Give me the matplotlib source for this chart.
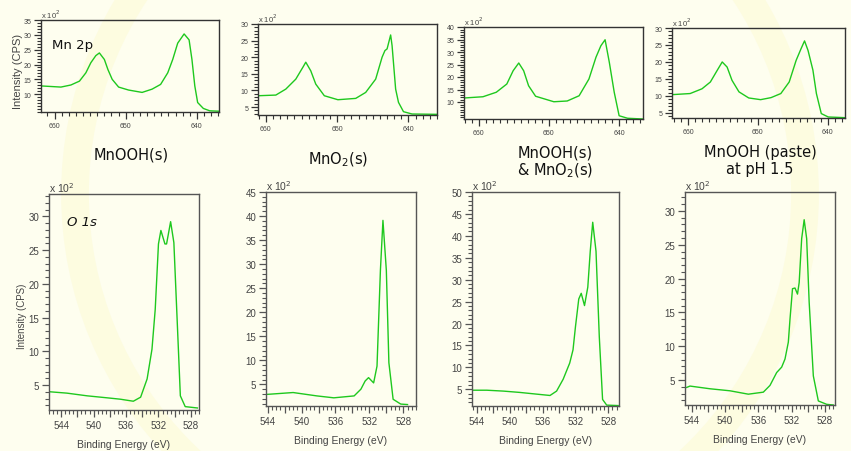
import matplotlib
matplotlib.use("Agg")
import matplotlib.pyplot as plt
from matplotlib.ticker import MultipleLocator, FixedLocator, FuncFormatter
from matplotlib.patches import Circle

# Mn 2p spectra (binding energy in eV, intensity in 100 CPS)
mnooh_E = [662.0, 659.1, 657.7, 656.5, 655.6, 654.9, 654.2, 653.7, 653.0, 652.5, 651.9, 651.0,
           649.6, 647.7, 646.3, 645.1, 644.1, 643.4, 642.7, 641.8, 641.1, 640.7, 640.3, 639.9,
           639.1, 638.2, 636.3]
mnooh_I = [12.8, 12.4, 13.1, 14.4, 17.2, 20.6, 23.0, 23.9, 21.7, 18.3, 15.0, 12.4,
           11.4, 10.6, 11.7, 13.3, 17.2, 21.7, 27.2, 30.3, 28.3, 21.7, 12.8, 7.2,
           5.2, 4.4, 4.2]

mno2_E = [661.1, 658.6, 657.2, 655.8, 654.8, 654.4, 653.7, 653.0, 651.8, 649.9, 647.4, 646.0,
          644.6, 643.7, 643.3, 643.0, 642.5, 642.3, 641.8, 641.4, 640.7, 639.5, 636.0]
mno2_I = [8.4, 8.6, 10.4, 13.4, 17.0, 18.5, 15.9, 11.9, 8.4, 7.2, 7.6, 9.4,
          13.4, 20.0, 22.0, 22.5, 26.7, 23.5, 10.4, 6.4, 3.6, 2.9, 2.8]

mix_E = [662.1, 659.4, 657.5, 656.0, 655.1, 654.3, 653.6, 652.9, 651.9, 649.3, 647.4, 645.7,
         644.3, 643.3, 642.6, 642.0, 641.4, 640.7, 640.0, 638.8, 636.6]
mix_I = [11.6, 12.1, 13.9, 17.2, 22.5, 25.6, 22.5, 16.5, 12.3, 10.1, 10.4, 12.5,
         19.2, 27.9, 32.5, 34.9, 25.9, 13.9, 4.5, 3.5, 3.2]

paste_E = [662.1, 659.7, 658.0, 656.8, 655.8, 655.1, 654.4, 653.7, 652.7, 651.3, 649.6, 648.1,
           646.7, 645.5, 644.5, 643.8, 643.3, 642.8, 642.1, 641.6, 640.9, 639.9, 637.5]
paste_I = [10.4, 10.7, 12.1, 14.1, 17.6, 20.0, 18.5, 14.6, 11.2, 9.4, 8.9, 9.5,
           10.7, 14.1, 20.5, 23.9, 26.2, 23.4, 17.6, 10.7, 4.8, 3.8, 3.6]

# O 1s spectra
o_mnooh_E = [545.4, 543.3, 540.8, 538.3, 536.7, 535.1, 534.2, 533.4, 532.8, 532.4, 532.0, 531.7,
             531.2, 531.0, 530.5, 530.1, 529.7, 529.3, 528.7, 527.2]
o_mnooh_I = [4.0, 3.8, 3.4, 3.1, 2.9, 2.6, 3.2, 5.9, 10.3, 16.2, 25.9, 27.9,
             25.9, 25.9, 29.2, 26.1, 14.8, 3.4, 1.8, 1.6]

o_mno2_E = [544.2, 541.0, 538.2, 536.2, 533.8, 533.0, 532.5, 532.1, 531.5, 531.1, 530.7, 530.4,
            530.0, 529.7, 529.2, 528.3, 527.5]
o_mno2_I = [2.9, 3.3, 2.6, 2.2, 2.6, 4.0, 5.7, 6.4, 5.3, 8.8, 28.7, 39.1,
            28.7, 9.5, 1.9, 0.9, 0.8]

o_mix_E = [544.5, 542.8, 540.8, 538.8, 536.7, 535.1, 534.3, 533.5, 532.7, 532.3, 532.0, 531.6,
           531.3, 530.9, 530.5, 530.2, 529.9, 529.5, 529.1, 528.7, 528.2, 526.8]
o_mix_I = [4.8, 4.8, 4.6, 4.3, 3.9, 3.6, 4.6, 7.3, 11.0, 14.0, 19.3, 25.6,
           26.9, 24.1, 28.3, 36.5, 43.1, 36.5, 17.0, 2.7, 1.4, 1.3]

o_paste_E = [544.6, 544.2, 541.8, 539.4, 537.2, 535.4, 534.6, 533.8, 533.2, 532.8, 532.4, 532.2,
             531.9, 531.6, 531.3, 531.1, 530.8, 530.5, 530.2, 529.9, 529.4, 528.8, 527.8, 527.0]
o_paste_I = [3.9, 4.1, 3.7, 3.4, 2.9, 3.2, 4.2, 6.1, 6.9, 8.1, 10.6, 14.0,
             18.5, 18.6, 17.7, 19.4, 25.9, 28.7, 25.9, 16.5, 5.6, 1.9, 1.4, 1.3]

sample_titles = ["MnOOH(s)", "MnO$_2$(s)", "MnOOH(s)\n& MnO$_2$(s)", "MnOOH (paste)\nat pH 1.5"]
mn_yticks = [[10, 15, 20, 25, 30, 35], [5, 10, 15, 20, 25, 30],
             [10, 15, 20, 25, 30, 35, 40], [5, 10, 15, 20, 25, 30]]
o_yticks = [[5, 10, 15, 20, 25, 30], [5, 10, 15, 20, 25, 30, 35, 40, 45],
            [5, 10, 15, 20, 25, 30, 35, 40, 45, 50], [5, 10, 15, 20, 25, 30]]

W, H = 851, 452
BG = "#fefeef"
GREEN = "#1ec81e"

# layout in pixels: left, top, right, bottom
mn_rects = [(41, 21, 219, 113), (258, 25, 437, 116), (464, 28, 643, 120), (672, 29, 845, 119)]
mn_xlims = [(661.9, 636.9), (661.1, 636.0), (662.1, 636.6), (662.3, 637.5)]
mn_ylims = [(4, 35), (2.6, 30), (3.2, 40), (3.5, 30)]
o_rects = [(49, 195, 199, 411), (266, 193, 416, 407), (472, 193, 619, 407), (685, 193, 835, 406)]
o_xlims = [(545.5, 527), (544.2, 526.5), (544.6, 526.7), (544.8, 526.8)]
o_ylims = [(1.3, 33.3), (0.5, 45), (1.2, 50), (1.3, 32.8)]
title_pos = [(131, 155), (338, 160), (555, 163), (760, 161)]

fig = plt.figure(figsize=(W / 100, H / 100), dpi=100, facecolor=BG)

# faint slide decoration
bg = fig.add_axes([0, 0, 1, 1], zorder=-5)
bg.set_xlim(0, W)
bg.set_ylim(H, 0)
bg.axis("off")
bg.add_patch(Circle((440, 195), 365, fill=False, lw=20, ec="#fdfce0"))


def add_panel(rect, xlim, ylim, yticks, E, I, top):
    l, t, r, b = rect
    ax = fig.add_axes([l / W, 1 - b / H, (r - l) / W, (b - t) / H])
    ax.set_facecolor("none")
    ax.plot(E, I, color=GREEN, lw=1.0)
    ax.set_xlim(*xlim)
    ax.set_ylim(*ylim)
    edge = "#333333" if top else "#555555"
    for s in ax.spines.values():
        s.set_color(edge)
        s.set_linewidth(1.0)
    fs = 5 if top else 7
    ax.yaxis.set_major_locator(FixedLocator(yticks))
    ax.yaxis.set_minor_locator(MultipleLocator(1))
    if top:
        ax.xaxis.set_major_locator(MultipleLocator(10))
        ax.xaxis.set_minor_locator(MultipleLocator(1))
        ax.xaxis.set_major_formatter(FuncFormatter(lambda v, p: "%d" % v))
    else:
        ax.xaxis.set_major_locator(MultipleLocator(2))
        ax.xaxis.set_minor_locator(MultipleLocator(0.5))
        ax.xaxis.set_major_formatter(
            FuncFormatter(lambda v, p: "%d" % v if round(v) % 4 == 0 else ""))
    ax.tick_params(which="major", direction="out", length=5, width=0.9, color=edge,
                   labelsize=fs, labelcolor="#444444", pad=2)
    ax.tick_params(which="minor", direction="out", length=3, width=0.8, color=edge)
    for lab in ax.get_xticklabels() + ax.get_yticklabels():
        lab.set_family("Liberation Sans")
    ax.text(0.0, 1.0, "x 10$^2$", transform=ax.transAxes, ha="left", va="bottom",
            fontsize=fs + 0.5, color="#444444", family="Liberation Sans")
    return ax


for k in range(4):
    add_panel(mn_rects[k], mn_xlims[k], mn_ylims[k], mn_yticks[k],
              [mnooh_E, mno2_E, mix_E, paste_E][k], [mnooh_I, mno2_I, mix_I, paste_I][k], True)
    ax = add_panel(o_rects[k], o_xlims[k], o_ylims[k], o_yticks[k],
                   [o_mnooh_E, o_mno2_E, o_mix_E, o_paste_E][k],
                   [o_mnooh_I, o_mno2_I, o_mix_I, o_paste_I][k], False)
    ax.set_xlabel("Binding Energy (eV)", fontsize=7.5, color="#444444",
                  family="Liberation Sans", labelpad=7)
    x, y = title_pos[k]
    fig.text(x / W, 1 - y / H, sample_titles[k], ha="center", va="center",
             fontsize=10.5, color="#111111", linespacing=1.1)

# y labels and element labels
fig.text(18 / W, 1 - 71 / H, "Intensity (CPS)", rotation=90, ha="center", va="center",
         fontsize=8, color="#444444", family="Liberation Sans")
fig.text(22 / W, 1 - 316 / H, "Intensity (CPS)", rotation=90, ha="center", va="center",
         fontsize=7, color="#444444", family="Liberation Sans")
fig.text(52 / W, 1 - 45 / H, "Mn 2p", ha="left", va="center", fontsize=9.5, color="#111111")
fig.text(67 / W, 1 - 223 / H, "O 1s", ha="left", va="center", fontsize=9.5,
         style="italic", color="#111111")

fig.savefig("out.png", dpi=100, facecolor=BG)
